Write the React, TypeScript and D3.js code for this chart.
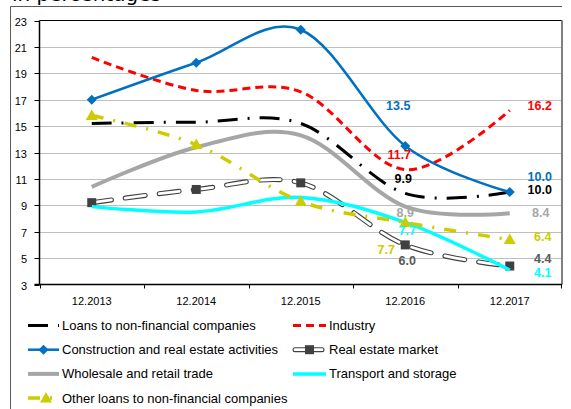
/**
 * Credit growth by sector, in percentages. Smoothed Excel-style lines,
 * 5 year-end categories, value labels on the last two years.
 */
import React, { useRef, useEffect } from 'react';
import * as d3 from 'd3';

const WIDTH = 571;
const HEIGHT = 409;
const FONT = 'Liberation Sans, Arial, sans-serif';

const categories = ['12.2013', '12.2014', '12.2015', '12.2016', '12.2017'];
const yTicks = [3, 5, 7, 9, 11, 13, 15, 17, 19, 21, 23];

const loans = [15.2, 15.3, 15.2, 9.9, 10.0];
const industry = [20.2, 17.7, 17.6, 11.7, 16.2];
const construction = [17.0, 19.8, 22.3, 13.5, 10.0];
const realEstate = [9.2, 10.2, 10.7, 6.0, 4.4];
const wholesale = [10.4, 13.4, 14.3, 8.9, 8.4];
const transport = [8.9, 8.5, 9.6, 7.7, 4.1];
const otherLoans = [15.8, 13.6, 9.3, 7.7, 6.4];

const seriesNames = [
  'Loans to non-financial companies',
  'Industry',
  'Construction and real estate activities',
  'Real estate market',
  'Wholesale and retail trade',
  'Transport and storage',
  'Other loans to non-financial companies',
];

type Style = {
  color: string;
  width: number;
  dash?: string;
  marker?: 'diamond' | 'square' | 'triangle';
  label: string;
  double?: boolean;
};

const styles: Style[] = [
  { color: '#000000', width: 3, dash: '20,10,2,10', label: '#000000' },
  { color: '#FF0000', width: 3, dash: '8,5', label: '#FF0000' },
  { color: '#0070C0', width: 2.5, marker: 'diamond', label: '#0070C0' },
  { color: '#404040', width: 5, dash: '20,14', marker: 'square', label: '#595959', double: true },
  { color: '#A6A6A6', width: 4, label: '#A6A6A6' },
  { color: '#00FFFF', width: 3.5, label: '#00FFFF' },
  { color: '#CCCC00', width: 3.5, dash: '12,10,2,10', marker: 'triangle', label: '#CCCC00' },
];

// label offsets [series, category, dx, dy] from the data point
const labelOffsets: [number, number, number, number][] = [
  [2, 3, -7, -40],
  [1, 3, -6, -15],
  [0, 3, -2, -14],
  [4, 3, 0, 6],
  [5, 3, 2, 9],
  [6, 3, -19, 28],
  [3, 3, 2, 16],
  [1, 4, 30, -4],
  [2, 4, 30, -15],
  [0, 4, 30, -2],
  [4, 4, 31, 0],
  [6, 4, 33, -3],
  [3, 4, 33, -7],
  [5, 4, 33, 3],
];

const App: React.FC = () => {
  const svgRef = useRef<SVGSVGElement>(null);

  useEffect(() => {
    document.body.style.margin = '0';
    if (!svgRef.current) return;
    const svg = d3.select(svgRef.current);
    svg.selectAll('*').remove();

    const data = [loans, industry, construction, realEstate, wholesale, transport, otherLoans];

    const left = 39.5;
    const right = 562;
    const top = 20.5;
    const bottom = 284.5;

    const x = d3.scaleBand<string>().domain(categories).range([left, right]);
    const y = d3.scaleLinear().domain([3, 23]).range([bottom, top]);
    const cx = (i: number) => (x(categories[i]) ?? 0) + x.bandwidth() / 2;

    // outer frame (cut off)
    svg.append('line').attr('x1', 10.5).attr('y1', 6.5).attr('x2', 562).attr('y2', 6.5)
      .attr('stroke', '#595959').attr('stroke-width', 1);
    svg.append('line').attr('x1', 10.5).attr('y1', 6.5).attr('x2', 10.5).attr('y2', HEIGHT)
      .attr('stroke', '#595959').attr('stroke-width', 1);

    svg.append('text')
      .attr('x', 12).attr('y', 1)
      .attr('font-family', 'DejaVu Sans, Verdana, sans-serif')
      .attr('font-size', '20px')
      .attr('fill', '#000')
      .text('in percentages');

    // gridlines
    yTicks.filter((t) => t > 3 && t < 23).forEach((t) => {
      svg.append('line')
        .attr('x1', left).attr('x2', right)
        .attr('y1', Math.round(y(t)) + 0.5).attr('y2', Math.round(y(t)) + 0.5)
        .attr('stroke', '#BFBFBF').attr('stroke-width', 1);
    });
    // plot border
    svg.append('line').attr('x1', left).attr('x2', right).attr('y1', top).attr('y2', top)
      .attr('stroke', '#000').attr('stroke-width', 1);
    svg.append('line').attr('x1', right).attr('x2', right).attr('y1', top).attr('y2', bottom)
      .attr('stroke', '#808080').attr('stroke-width', 2);

    // y axis
    svg.append('line').attr('x1', left).attr('x2', left).attr('y1', top).attr('y2', bottom)
      .attr('stroke', '#000').attr('stroke-width', 1.5);
    yTicks.forEach((t) => {
      const yy = Math.round(y(t)) + 0.5;
      svg.append('line').attr('x1', left - 5).attr('x2', left).attr('y1', yy).attr('y2', yy)
        .attr('stroke', '#000').attr('stroke-width', 1);
      svg.append('text')
        .attr('x', 27).attr('y', yy)
        .attr('text-anchor', 'end')
        .attr('dominant-baseline', 'central')
        .attr('font-family', FONT).attr('font-size', '11px').attr('fill', '#000')
        .text(String(t));
    });

    // x axis
    svg.append('line').attr('x1', left - 5).attr('x2', right).attr('y1', bottom).attr('y2', bottom)
      .attr('stroke', '#000').attr('stroke-width', 1.5);
    categories.forEach((c, i) => {
      const bx = Math.round(x(c) ?? 0) + 0.5;
      svg.append('line').attr('x1', bx).attr('x2', bx).attr('y1', bottom).attr('y2', bottom + 4)
        .attr('stroke', '#000').attr('stroke-width', 1);
      svg.append('text')
        .attr('x', cx(i)).attr('y', 305)
        .attr('text-anchor', 'middle')
        .attr('font-family', FONT).attr('font-size', '11px').attr('fill', '#000')
        .text(c);
    });
    svg.append('line').attr('x1', right - 0.5).attr('x2', right - 0.5).attr('y1', bottom).attr('y2', bottom + 4)
      .attr('stroke', '#000').attr('stroke-width', 1);

    const line = d3.line<number>()
      .x((_, i) => cx(i))
      .y((v) => y(v))
      .curve(d3.curveCatmullRom.alpha(0));

    const drawMarker = (g: d3.Selection<SVGGElement, unknown, null, undefined>, kind: string, px: number, py: number, color: string) => {
      if (kind === 'diamond') {
        g.append('path').attr('d', `M${px},${py - 5}L${px + 5},${py}L${px},${py + 5}L${px - 5},${py}Z`).attr('fill', color);
      } else if (kind === 'square') {
        g.append('rect').attr('x', px - 4.5).attr('y', py - 4.5).attr('width', 9).attr('height', 9).attr('fill', '#404040');
      } else if (kind === 'triangle') {
        g.append('path').attr('d', `M${px},${py - 6}L${px + 6},${py + 4.5}L${px - 6},${py + 4.5}Z`).attr('fill', color);
      }
    };

    const plot = svg.append('g');
    data.forEach((vals, s) => {
      const st = styles[s];
      const d = line(vals) ?? '';
      if (st.double) {
        plot.append('path').attr('d', d).attr('fill', 'none')
          .attr('stroke', st.color).attr('stroke-width', st.width)
          .attr('stroke-dasharray', st.dash ?? null).attr('stroke-linecap', 'round');
        plot.append('path').attr('d', d).attr('fill', 'none')
          .attr('stroke', '#fff').attr('stroke-width', st.width - 2.2)
          .attr('stroke-dasharray', st.dash ?? null).attr('stroke-linecap', 'round');
      } else {
        plot.append('path').attr('d', d).attr('fill', 'none')
          .attr('stroke', st.color).attr('stroke-width', st.width)
          .attr('stroke-dasharray', st.dash ?? null);
      }
      if (st.marker) {
        vals.forEach((v, i) => drawMarker(plot, st.marker as string, cx(i), y(v), st.color));
      }
    });

    // value labels
    labelOffsets.forEach(([s, i, dx, dy]) => {
      const v = data[s][i];
      svg.append('text')
        .attr('x', cx(i) + dx).attr('y', y(v) + dy)
        .attr('text-anchor', 'middle')
        .attr('dominant-baseline', 'central')
        .attr('font-family', FONT).attr('font-size', '12.5px').attr('font-weight', 'bold')
        .attr('fill', styles[s].label)
        .text(v.toFixed(1));
    });

    // legend, two columns, row-major
    const legend = svg.append('g');
    seriesNames.forEach((name, s) => {
      const st = styles[s];
      const col = s % 2;
      const row = Math.floor(s / 2);
      const x0 = col === 0 ? 28 : 293;
      const tx = col === 0 ? 62 : 329;
      const ly = 325.5 + row * 24.2;
      const sampleEnd = tx - 3;
      if (st.double) {
        legend.append('line').attr('x1', x0 + 2).attr('x2', sampleEnd - 4).attr('y1', ly).attr('y2', ly)
          .attr('stroke', st.color).attr('stroke-width', st.width).attr('stroke-linecap', 'round');
        legend.append('line').attr('x1', x0 + 2).attr('x2', sampleEnd - 4).attr('y1', ly).attr('y2', ly)
          .attr('stroke', '#fff').attr('stroke-width', st.width - 2.2).attr('stroke-linecap', 'round');
      } else {
        legend.append('line').attr('x1', x0).attr('x2', sampleEnd).attr('y1', ly).attr('y2', ly)
          .attr('stroke', st.color).attr('stroke-width', st.width)
          .attr('stroke-dasharray', st.dash ?? null);
      }
      if (st.marker) {
        const mx = st.marker === 'triangle' ? x0 + 18 : (x0 + sampleEnd) / 2;
        drawMarker(legend, st.marker, mx, ly, st.color);
      }
      legend.append('text')
        .attr('x', tx).attr('y', ly)
        .attr('dominant-baseline', 'central')
        .attr('font-family', FONT).attr('font-size', '13px').attr('fill', '#000')
        .text(name);
    });
  }, []);

  return <svg ref={svgRef} width={WIDTH} height={HEIGHT} style={{ display: 'block' }} viewBox={`0 0 ${WIDTH} ${HEIGHT}`} />;
};

export default App;
